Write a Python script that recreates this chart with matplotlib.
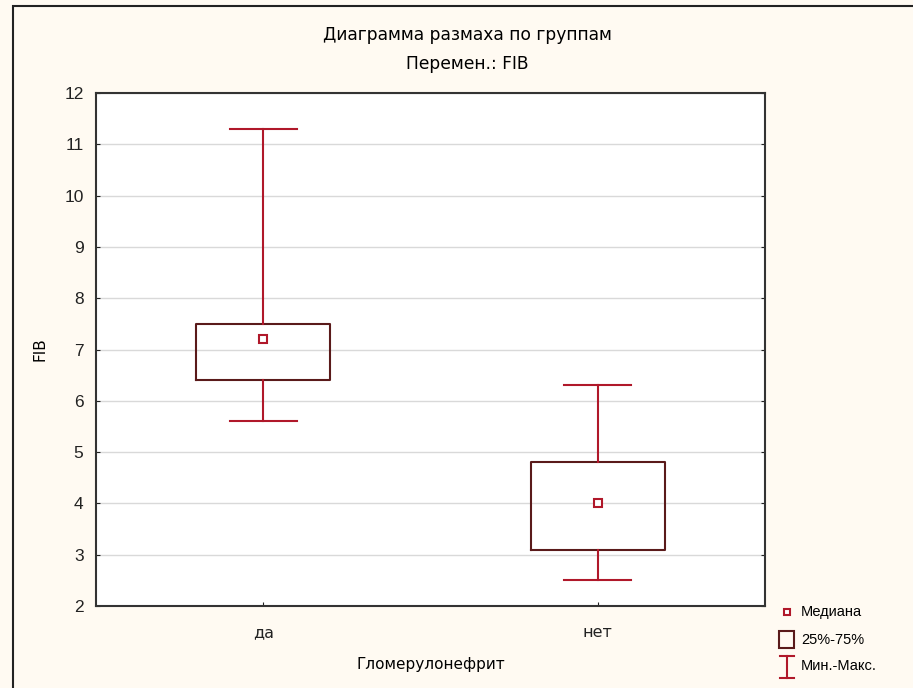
import matplotlib.pyplot as plt
from matplotlib.patches import Rectangle

plt.rcParams['font.family'] = ['Liberation Sans', 'DejaVu Sans']

# data
groups = ['да', 'нет']
mins = [5.6, 2.5]
q1s = [6.4, 3.1]
medians = [7.2, 4.0]
q3s = [7.5, 4.8]
maxs = [11.3, 6.3]

box_col = '#5a1a1a'
red = '#b0182a'
bg = '#fffaf2'
wide = ['DejaVu Sans']

fig = plt.figure(figsize=(9.13, 6.88), dpi=100, facecolor=bg)
# outer frame
fig.add_artist(Rectangle((13 / 913, -0.01), 1.0, 1 - 6 / 688 + 0.01, transform=fig.transFigure,
                         fill=False, edgecolor='#222222', linewidth=1.5))

ax = fig.add_axes([96 / 913, 1 - 606 / 688, (765 - 96) / 913, (606 - 93) / 688])
ax.set_facecolor('white')

stats = []
for g, lo, a, m, b, hi in zip(groups, mins, q1s, medians, q3s, maxs):
    stats.append({'label': g, 'whislo': lo, 'q1': a, 'med': m, 'q3': b, 'whishi': hi})

pos = list(range(1, len(groups) + 1))
ax.bxp(stats, positions=pos, widths=0.4, showfliers=False,
       boxprops=dict(color=box_col, linewidth=1.5),
       whiskerprops=dict(color=red, linewidth=1.5),
       capprops=dict(color=red, linewidth=1.5),
       medianprops=dict(linewidth=0),
       capwidths=0.2, zorder=3)
ax.plot(pos, medians, 's', ms=6, mfc='white', mec=red, mew=1.5, zorder=4)

ax.set_xlim(0.5, 2.5)
ax.set_ylim(2, 12)
ax.set_yticks(range(2, 13))
ax.set_xticks(pos)
ax.set_xticklabels(groups, fontfamily=wide, fontsize=11.5)
ax.yaxis.grid(True, color='#d9d9d9', linewidth=1)
ax.set_axisbelow(True)
ax.tick_params(direction='in', length=3, colors='#222222', right=True)
ax.tick_params(axis='y', labelsize=12.5, pad=9)
ax.tick_params(axis='x', pad=14)
for s in ax.spines.values():
    s.set_color('#333333')
    s.set_linewidth(1.5)

ax.set_ylabel('FIB', fontsize=11, labelpad=12, fontfamily=wide)
ax.set_xlabel('Гломерулонефрит', fontsize=11, labelpad=12, fontfamily=wide)
fig.text(467 / 913, 1 - 35 / 688, 'Диаграмма размаха по группам', ha='center', va='center',
         fontsize=12.3, fontfamily=wide)
fig.text(467 / 913, 1 - 64 / 688, 'Перемен.: FIB', ha='center', va='center',
         fontsize=12.3, fontfamily=wide)

# legend drawn by hand in a small overlay
lg = fig.add_axes([770 / 913, 0, 143 / 913, 1 - 600 / 688])
lg.set_xlim(770, 913)
lg.set_ylim(688, 600)
lg.axis('off')
lg.plot([787], [612], 's', ms=5, mfc='white', mec=red, mew=1.5)
lg.add_patch(Rectangle((779, 631), 15, 17, fill=False, edgecolor=box_col, linewidth=1.5))
lg.plot([787, 787], [656, 678], color=red, lw=1.5)
lg.plot([780, 794], [656, 656], color=red, lw=1.5)
lg.plot([780, 794], [678, 678], color=red, lw=1.5)
lg.text(801, 612, 'Медиана', va='center', fontsize=10.5)
lg.text(801, 640, '25%-75%', va='center', fontsize=10.5)
lg.text(801, 666, 'Мин.-Макс.', va='center', fontsize=10.5)

fig.savefig('out.png', dpi=100, facecolor=bg)
